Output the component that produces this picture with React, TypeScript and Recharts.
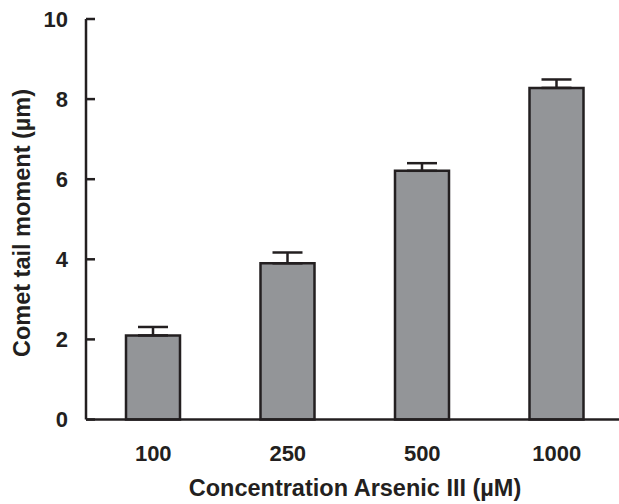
import React from 'react';
import { BarChart, Bar, XAxis, YAxis, ErrorBar, Label } from 'recharts';

const concentrations = ['100', '250', '500', '1000'];
const tailMoment = [2.1, 3.9, 6.21, 8.28];
const tailError = [0.21, 0.27, 0.19, 0.21];
const yTicks = [0, 2, 4, 6, 8, 10];

const INK = '#231f20';
const FONT = '"Liberation Sans", Arial, sans-serif';

const data = concentrations.map((c, i) => ({
    conc: c,
    value: tailMoment[i],
    err: [0, tailError[i]],
}));

const YTick = ({ x, y, payload }: any) => (
    <g>
        <line x1={x} y1={y} x2={x + 9} y2={y} stroke={INK} strokeWidth={2.5} />
        <text x={x - 18} y={y} dy="0.36em" textAnchor="end" fill={INK} fontSize={22} fontWeight="bold" fontFamily={FONT}>
            {payload.value}
        </text>
    </g>
);

const YLabel = ({ viewBox }: any) => {
    const cx = 22;
    const cy = 223;
    return (
        <text x={cx} y={cy} transform={`rotate(-90, ${cx}, ${cy})`} dy="0.36em" textAnchor="middle" fill={INK} fontSize={23.5} fontWeight="bold" fontFamily={FONT}>
            Comet tail moment (µm)
        </text>
    );
};

const App: React.FC = () => {
    return (
        <div style={{ position: 'absolute', left: 0, top: 0, width: 619, height: 504, overflow: 'hidden', background: '#fff' }}>
            <BarChart width={630} height={504} data={data} margin={{ top: 19, right: 6, left: 0, bottom: 0 }} barSize={54}>
                <XAxis
                    dataKey="conc"
                    axisLine={{ stroke: INK, strokeWidth: 2.5 }}
                    tickLine={false}
                    tickSize={0}
                    tickMargin={26}
                    tick={{ fill: INK, fontSize: 22, fontWeight: 'bold', fontFamily: FONT }}
                    height={84.5}
                >
                    <Label
                        value="Concentration Arsenic III (µM)"
                        position="insideBottom"
                        offset={8}
                        fill={INK}
                        fontSize={23.5}
                        fontWeight="bold"
                        fontFamily={FONT}
                    />
                </XAxis>
                <YAxis
                    width={86}
                    domain={[0, 10]}
                    ticks={yTicks}
                    interval={0}
                    axisLine={{ stroke: INK, strokeWidth: 2.5 }}
                    tickLine={false}
                    tickSize={0}
                    tickMargin={0}
                    tick={<YTick />}
                >
                    <Label content={<YLabel />} />
                </YAxis>
                <Bar dataKey="value" fill="#939598" stroke={INK} strokeWidth={2.5} isAnimationActive={false}>
                    <ErrorBar dataKey="err" width={15} stroke={INK} strokeWidth={2.5} direction="y" />
                </Bar>
            </BarChart>
        </div>
    );
};

export default App;
